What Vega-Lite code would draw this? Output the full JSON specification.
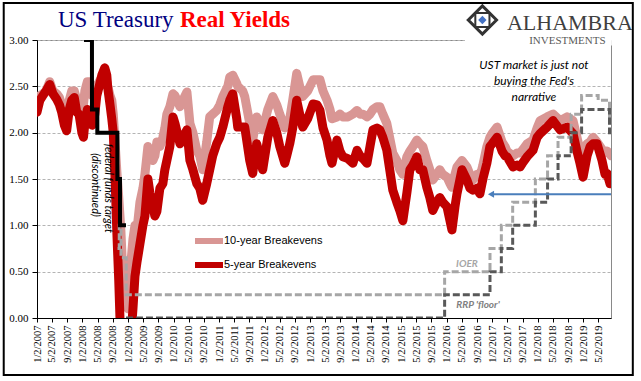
{
  "$schema": "https://vega.github.io/schema/vega-lite/v6.json",
  "width": 574,
  "height": 278,
  "autosize": {"type": "none"},
  "padding": {"left": 37, "top": 40, "right": 30, "bottom": 63},
  "background": "white",
  "datasets": {
    "be": [
      {"d":"2007-01-02","b10":2.30,"b5":2.22},{"d":"2007-01-25","b10":2.40,"b5":2.35},{"d":"2007-02-18","b10":2.42,"b5":2.40},{"d":"2007-03-15","b10":2.45,"b5":2.45},{"d":"2007-04-14","b10":2.55,"b5":2.52},{"d":"2007-05-10","b10":2.45,"b5":2.42},{"d":"2007-06-09","b10":2.42,"b5":2.36},{"d":"2007-07-01","b10":2.38,"b5":2.30},{"d":"2007-07-19","b10":2.30,"b5":2.22},{"d":"2007-08-10","b10":2.20,"b5":2.08},{"d":"2007-08-28","b10":2.15,"b5":2.02},{"d":"2007-09-18","b10":2.35,"b5":2.25},{"d":"2007-10-08","b10":2.45,"b5":2.35},{"d":"2007-10-28","b10":2.45,"b5":2.38},{"d":"2007-11-17","b10":2.35,"b5":2.22},{"d":"2007-12-05","b10":2.30,"b5":2.20},{"d":"2007-12-28","b10":2.25,"b5":2.00},
      {"d":"2008-01-10","b10":2.30,"b5":1.95},{"d":"2008-01-21","b10":2.45,"b5":2.10},{"d":"2008-02-10","b10":2.55,"b5":2.25},{"d":"2008-03-01","b10":2.55,"b5":2.15},{"d":"2008-03-20","b10":2.40,"b5":2.08},{"d":"2008-04-10","b10":2.45,"b5":2.20},{"d":"2008-04-26","b10":2.50,"b5":2.40},{"d":"2008-05-15","b10":2.55,"b5":2.50},{"d":"2008-06-05","b10":2.60,"b5":2.62},{"d":"2008-06-29","b10":2.60,"b5":2.70},{"d":"2008-07-15","b10":2.55,"b5":2.62},{"d":"2008-07-23","b10":2.50,"b5":2.48},{"d":"2008-08-10","b10":2.40,"b5":2.30},{"d":"2008-08-24","b10":2.35,"b5":2.15},{"d":"2008-09-05","b10":2.20,"b5":2.00},{"d":"2008-09-17","b10":1.95,"b5":1.60},{"d":"2008-10-03","b10":1.60,"b5":0.95},{"d":"2008-10-19","b10":1.30,"b5":0.40},{"d":"2008-11-05","b10":0.95,"b5":-0.30},{"d":"2008-11-21","b10":0.45,"b5":-1.00},{"d":"2008-12-07","b10":0.15,"b5":-1.50},
      {"d":"2009-01-01","b10":0.10,"b5":-0.60},{"d":"2009-01-25","b10":0.60,"b5":-0.20},{"d":"2009-02-10","b10":0.85,"b5":0.10},{"d":"2009-02-26","b10":1.00,"b5":0.45},{"d":"2009-03-14","b10":0.95,"b5":0.60},{"d":"2009-04-07","b10":1.25,"b5":0.80},{"d":"2009-05-01","b10":1.40,"b5":1.00},{"d":"2009-05-17","b10":1.55,"b5":1.10},{"d":"2009-06-10","b10":1.85,"b5":1.50},{"d":"2009-06-26","b10":1.80,"b5":1.35},{"d":"2009-07-20","b10":1.70,"b5":1.20},{"d":"2009-08-05","b10":1.75,"b5":1.10},{"d":"2009-08-21","b10":1.90,"b5":1.15},{"d":"2009-09-14","b10":1.85,"b5":1.40},{"d":"2009-10-08","b10":1.95,"b5":1.45},{"d":"2009-10-24","b10":2.05,"b5":1.60},{"d":"2009-11-09","b10":2.20,"b5":1.70},{"d":"2009-12-03","b10":2.28,"b5":1.85},{"d":"2009-12-28","b10":2.42,"b5":2.17},
      {"d":"2010-01-13","b10":2.40,"b5":2.10},{"d":"2010-02-22","b10":2.28,"b5":1.88},{"d":"2010-03-18","b10":2.35,"b5":1.95},{"d":"2010-04-19","b10":2.44,"b5":2.03},{"d":"2010-05-13","b10":2.10,"b5":1.70},{"d":"2010-06-06","b10":2.00,"b5":1.60},{"d":"2010-07-07","b10":1.81,"b5":1.45},{"d":"2010-07-31","b10":1.75,"b5":1.40},{"d":"2010-08-24","b10":1.60,"b5":1.27},{"d":"2010-09-25","b10":1.90,"b5":1.45},{"d":"2010-10-19","b10":2.17,"b5":1.60},{"d":"2010-11-12","b10":2.20,"b5":1.75},{"d":"2010-12-14","b10":2.24,"b5":1.88},
      {"d":"2011-01-08","b10":2.30,"b5":1.95},{"d":"2011-02-01","b10":2.39,"b5":2.06},{"d":"2011-03-13","b10":2.50,"b5":2.28},{"d":"2011-03-29","b10":2.60,"b5":2.35},{"d":"2011-04-22","b10":2.62,"b5":2.42},{"d":"2011-05-24","b10":2.53,"b5":2.15},{"d":"2011-06-01","b10":2.50,"b5":2.06},{"d":"2011-07-11","b10":2.45,"b5":2.06},{"d":"2011-07-27","b10":2.39,"b5":2.06},{"d":"2011-09-05","b10":2.10,"b5":1.70},{"d":"2011-09-29","b10":1.92,"b5":1.56},{"d":"2011-10-31","b10":2.17,"b5":1.88},{"d":"2011-11-24","b10":2.10,"b5":1.75},{"d":"2011-12-18","b10":2.03,"b5":1.60},
      {"d":"2012-01-28","b10":2.25,"b5":1.95},{"d":"2012-03-08","b10":2.39,"b5":2.13},{"d":"2012-04-09","b10":2.30,"b5":2.00},{"d":"2012-05-03","b10":2.20,"b5":1.85},{"d":"2012-06-12","b10":2.05,"b5":1.67},{"d":"2012-06-28","b10":2.10,"b5":1.75},{"d":"2012-07-22","b10":2.15,"b5":1.88},{"d":"2012-08-15","b10":2.35,"b5":2.05},{"d":"2012-09-16","b10":2.64,"b5":2.35},{"d":"2012-10-10","b10":2.50,"b5":2.20},{"d":"2012-11-03","b10":2.39,"b5":2.06},{"d":"2012-12-13","b10":2.45,"b5":2.15},
      {"d":"2013-01-25","b10":2.57,"b5":2.31},{"d":"2013-02-26","b10":2.57,"b5":2.30},{"d":"2013-03-22","b10":2.57,"b5":2.24},{"d":"2013-04-15","b10":2.45,"b5":2.05},{"d":"2013-05-17","b10":2.35,"b5":1.92},{"d":"2013-06-10","b10":2.25,"b5":1.75},{"d":"2013-06-26","b10":2.15,"b5":1.67},{"d":"2013-08-05","b10":2.17,"b5":1.92},{"d":"2013-08-29","b10":2.20,"b5":1.80},{"d":"2013-09-22","b10":2.17,"b5":1.74},{"d":"2013-11-01","b10":2.17,"b5":1.72},{"d":"2013-12-11","b10":2.20,"b5":1.67},
      {"d":"2014-01-13","b10":2.24,"b5":1.81},{"d":"2014-02-06","b10":2.20,"b5":1.75},{"d":"2014-03-02","b10":2.20,"b5":1.72},{"d":"2014-04-03","b10":2.17,"b5":1.67},{"d":"2014-04-27","b10":2.20,"b5":1.85},{"d":"2014-05-21","b10":2.25,"b5":2.03},{"d":"2014-06-22","b10":2.28,"b5":2.05},{"d":"2014-07-15","b10":2.28,"b5":2.03},{"d":"2014-08-08","b10":2.20,"b5":1.95},{"d":"2014-09-09","b10":2.10,"b5":1.81},{"d":"2014-10-27","b10":1.78,"b5":1.38},{"d":"2014-11-28","b10":1.70,"b5":1.25},{"d":"2014-12-22","b10":1.60,"b5":1.16},
      {"d":"2015-01-16","b10":1.55,"b5":1.05},{"d":"2015-02-17","b10":1.74,"b5":1.35},{"d":"2015-03-13","b10":1.80,"b5":1.60},{"d":"2015-04-06","b10":1.85,"b5":1.65},{"d":"2015-05-08","b10":1.92,"b5":1.74},{"d":"2015-06-01","b10":1.88,"b5":1.60},{"d":"2015-06-25","b10":1.85,"b5":1.60},{"d":"2015-07-27","b10":1.70,"b5":1.41},{"d":"2015-08-20","b10":1.60,"b5":1.30},{"d":"2015-09-13","b10":1.49,"b5":1.16},{"d":"2015-10-15","b10":1.55,"b5":1.25},{"d":"2015-11-08","b10":1.60,"b5":1.30},{"d":"2015-12-02","b10":1.55,"b5":1.25},
      {"d":"2016-01-05","b10":1.52,"b5":1.20},{"d":"2016-01-29","b10":1.45,"b5":1.05},{"d":"2016-02-14","b10":1.41,"b5":0.95},{"d":"2016-03-09","b10":1.55,"b5":1.20},{"d":"2016-03-25","b10":1.63,"b5":1.34},{"d":"2016-05-04","b10":1.70,"b5":1.60},{"d":"2016-06-13","b10":1.63,"b5":1.49},{"d":"2016-07-07","b10":1.55,"b5":1.40},{"d":"2016-07-31","b10":1.49,"b5":1.38},{"d":"2016-09-01","b10":1.55,"b5":1.40},{"d":"2016-09-25","b10":1.52,"b5":1.34},{"d":"2016-10-19","b10":1.65,"b5":1.50},{"d":"2016-11-20","b10":1.85,"b5":1.67},{"d":"2016-12-14","b10":1.95,"b5":1.85},
      {"d":"2017-01-01","b10":1.99,"b5":1.88},{"d":"2017-02-10","b10":2.06,"b5":1.95},{"d":"2017-03-22","b10":1.90,"b5":1.80},{"d":"2017-04-15","b10":1.85,"b5":1.75},{"d":"2017-05-01","b10":1.80,"b5":1.74},{"d":"2017-06-18","b10":1.75,"b5":1.63},{"d":"2017-07-20","b10":1.78,"b5":1.65},{"d":"2017-08-13","b10":1.78,"b5":1.63},{"d":"2017-09-06","b10":1.82,"b5":1.68},{"d":"2017-10-08","b10":1.88,"b5":1.74},{"d":"2017-11-25","b10":1.92,"b5":1.81},{"d":"2017-12-28","b10":2.05,"b5":1.95},
      {"d":"2018-01-21","b10":2.13,"b5":1.99},{"d":"2018-03-18","b10":2.17,"b5":2.06},{"d":"2018-05-05","b10":2.20,"b5":2.13},{"d":"2018-06-30","b10":2.13,"b5":2.03},{"d":"2018-08-25","b10":2.17,"b5":2.06},{"d":"2018-10-12","b10":2.13,"b5":1.99},{"d":"2018-11-13","b10":1.95,"b5":1.80},{"d":"2018-12-07","b10":1.81,"b5":1.67},
      {"d":"2019-01-01","b10":1.75,"b5":1.52},{"d":"2019-02-02","b10":1.88,"b5":1.75},{"d":"2019-02-26","b10":1.90,"b5":1.85},{"d":"2019-03-22","b10":1.95,"b5":1.88},{"d":"2019-04-23","b10":1.90,"b5":1.88},{"d":"2019-06-02","b10":1.82,"b5":1.70},{"d":"2019-06-26","b10":1.78,"b5":1.55},{"d":"2019-07-12","b10":1.80,"b5":1.56},{"d":"2019-08-05","b10":1.78,"b5":1.45},{"d":"2019-08-13","b10":1.75,"b5":1.45}
    ],
    "policy": [
      {"d":"2007-12-11","k":"FF","v":4.25},{"d":"2008-01-22","k":"FF","v":3.50},{"d":"2008-01-30","k":"FF","v":3.00},{"d":"2008-03-18","k":"FF","v":2.25},{"d":"2008-04-30","k":"FF","v":2.00},{"d":"2008-10-08","k":"FF","v":1.50},{"d":"2008-10-29","k":"FF","v":1.00},{"d":"2008-12-16","k":"FF","v":1.00},
      {"d":"2008-10-09","k":"IOER","v":0.75},{"d":"2008-10-23","k":"IOER","v":1.00},{"d":"2008-11-06","k":"IOER","v":0.65},{"d":"2008-12-18","k":"IOER","v":0.25},{"d":"2015-12-17","k":"IOER","v":0.50},{"d":"2016-12-15","k":"IOER","v":0.75},{"d":"2017-03-16","k":"IOER","v":1.00},{"d":"2017-06-15","k":"IOER","v":1.25},{"d":"2017-12-14","k":"IOER","v":1.50},{"d":"2018-03-22","k":"IOER","v":1.75},{"d":"2018-06-14","k":"IOER","v":1.95},{"d":"2018-09-27","k":"IOER","v":2.20},{"d":"2018-12-20","k":"IOER","v":2.40},{"d":"2019-05-02","k":"IOER","v":2.35},{"d":"2019-08-01","k":"IOER","v":2.10},{"d":"2019-08-13","k":"IOER","v":2.10},
      {"d":"2008-12-16","k":"RRP","v":0.00},{"d":"2015-12-17","k":"RRP","v":0.25},{"d":"2016-12-15","k":"RRP","v":0.50},{"d":"2017-03-16","k":"RRP","v":0.75},{"d":"2017-06-15","k":"RRP","v":1.00},{"d":"2017-12-14","k":"RRP","v":1.25},{"d":"2018-03-22","k":"RRP","v":1.50},{"d":"2018-06-14","k":"RRP","v":1.75},{"d":"2018-09-27","k":"RRP","v":2.00},{"d":"2018-12-20","k":"RRP","v":2.25},{"d":"2019-08-01","k":"RRP","v":2.00},{"d":"2019-08-13","k":"RRP","v":2.00}
    ]
  },
  "layer": [
    {
      "data": {"name": "be"},
      "transform": [{"fold": ["b10", "b5"], "as": ["s", "v"]}, {"filter": "datum.s == 'b10'"}],
      "mark": {"type": "line", "strokeWidth": 9, "strokeJoin": "round", "strokeCap": "round", "clip": true},
      "encoding": {
        "x": {"field": "d", "type": "temporal",
          "scale": {"type": "utc", "domain": [{"year": 2007, "month": 1, "date": 2, "utc": true}, {"year": 2019, "month": 8, "date": 13, "utc": true}], "nice": false},
          "axis": {
            "title": null, "grid": false, "tickCount": 200,
            "values": [
              {"year":2007,"month":1,"date":2,"utc":true},{"year":2007,"month":5,"date":2,"utc":true},{"year":2007,"month":9,"date":2,"utc":true},
              {"year":2008,"month":1,"date":2,"utc":true},{"year":2008,"month":5,"date":2,"utc":true},{"year":2008,"month":9,"date":2,"utc":true},
              {"year":2009,"month":1,"date":2,"utc":true},{"year":2009,"month":5,"date":2,"utc":true},{"year":2009,"month":9,"date":2,"utc":true},
              {"year":2010,"month":1,"date":2,"utc":true},{"year":2010,"month":5,"date":2,"utc":true},{"year":2010,"month":9,"date":2,"utc":true},
              {"year":2011,"month":1,"date":2,"utc":true},{"year":2011,"month":5,"date":2,"utc":true},{"year":2011,"month":9,"date":2,"utc":true},
              {"year":2012,"month":1,"date":2,"utc":true},{"year":2012,"month":5,"date":2,"utc":true},{"year":2012,"month":9,"date":2,"utc":true},
              {"year":2013,"month":1,"date":2,"utc":true},{"year":2013,"month":5,"date":2,"utc":true},{"year":2013,"month":9,"date":2,"utc":true},
              {"year":2014,"month":1,"date":2,"utc":true},{"year":2014,"month":5,"date":2,"utc":true},{"year":2014,"month":9,"date":2,"utc":true},
              {"year":2015,"month":1,"date":2,"utc":true},{"year":2015,"month":5,"date":2,"utc":true},{"year":2015,"month":9,"date":2,"utc":true},
              {"year":2016,"month":1,"date":2,"utc":true},{"year":2016,"month":5,"date":2,"utc":true},{"year":2016,"month":9,"date":2,"utc":true},
              {"year":2017,"month":1,"date":2,"utc":true},{"year":2017,"month":5,"date":2,"utc":true},{"year":2017,"month":9,"date":2,"utc":true},
              {"year":2018,"month":1,"date":2,"utc":true},{"year":2018,"month":5,"date":2,"utc":true},{"year":2018,"month":9,"date":2,"utc":true},
              {"year":2019,"month":1,"date":2,"utc":true},{"year":2019,"month":5,"date":2,"utc":true}
            ],
            "labelExpr": "utcFormat(datum.value, '%-m/%-d/%Y')",
            "labelAngle": 270, "labelFont": "Liberation Serif", "labelFontSize": 10.5, "labelColor": "#000000",
            "labelOverlap": false, "labelFlush": false, "labelBound": false,
            "tickSize": 4, "tickColor": "#000000", "domainColor": "#000000", "labelPadding": 3
          }
        },
        "y": {"field": "v", "type": "quantitative",
          "scale": {"domain": [0, 3], "nice": false, "zero": false},
          "axis": {"title": null, "values": [0, 0.5, 1, 1.5, 2, 2.5, 3], "format": ".2f",
            "labelFont": "Liberation Serif", "labelFontSize": 11, "labelColor": "#000000",
            "tickSize": 5, "tickColor": "#000000", "domainColor": "#000000", "labelPadding": 4,
            "grid": true, "gridDash": [3, 2], "gridColor": "#B4B4B4"}
        },
        "color": {"field": "s", "type": "nominal",
          "scale": {"domain": ["b10", "b5"], "range": ["#D99694", "#C00000"]},
          "legend": {"title": null, "orient": "none", "legendX": 162, "legendY": 191,
            "labelExpr": "datum.label == 'b10' ? '10-year Breakevens' : '5-year Breakevens'",
            "symbolType": "M-2,0H2", "symbolSize": 196, "symbolStrokeWidth": 6, "rowPadding": 0,
            "labelFont": "Liberation Sans", "labelFontSize": 11, "labelColor": "#000000", "labelOffset": 5, "padding": 0}
        }
      }
    },
    {
      "data": {"name": "be"},
      "transform": [{"fold": ["b10", "b5"], "as": ["s", "v"]}, {"filter": "datum.s == 'b5'"}],
      "mark": {"type": "line", "strokeWidth": 9, "strokeJoin": "round", "strokeCap": "round", "clip": true},
      "encoding": {
        "x": {"field": "d", "type": "temporal"},
        "y": {"field": "v", "type": "quantitative"},
        "color": {"field": "s", "type": "nominal"}
      }
    },
    {
      "data": {"name": "policy"},
      "transform": [{"filter": "datum.k == 'IOER'"}],
      "mark": {"type": "line", "interpolate": "step-after", "stroke": "#A6A6A6", "strokeWidth": 3, "strokeDash": [7, 3], "clip": true},
      "encoding": {"x": {"field": "d", "type": "temporal"}, "y": {"field": "v", "type": "quantitative"}}
    },
    {
      "data": {"name": "policy"},
      "transform": [{"filter": "datum.k == 'RRP'"}],
      "mark": {"type": "line", "interpolate": "step-after", "stroke": "#595959", "strokeWidth": 3, "strokeDash": [7, 3], "clip": true},
      "encoding": {"x": {"field": "d", "type": "temporal"}, "y": {"field": "v", "type": "quantitative"}}
    },
    {
      "data": {"name": "policy"},
      "transform": [{"filter": "datum.k == 'FF'"}],
      "mark": {"type": "line", "interpolate": "step-after", "stroke": "#000000", "strokeWidth": 4, "clip": true},
      "encoding": {"x": {"field": "d", "type": "temporal"}, "y": {"field": "v", "type": "quantitative"}}
    },
    {
      "data": {"values": [{}]},
      "mark": {"type": "rule", "stroke": "#4A7EBB", "strokeWidth": 2},
      "encoding": {
        "x": {"datum": {"year": 2016, "month": 12, "date": 23, "utc": true}, "type": "temporal"},
        "x2": {"datum": {"year": 2019, "month": 8, "date": 13, "utc": true}},
        "y": {"datum": 1.335, "type": "quantitative"}
      }
    },
    {
      "data": {"values": [{}]},
      "mark": {"type": "point", "shape": "triangle-left", "filled": true, "fill": "#4A7EBB", "size": 50, "opacity": 1},
      "encoding": {
        "x": {"datum": {"year": 2016, "month": 12, "date": 23, "utc": true}, "type": "temporal"},
        "y": {"datum": 1.335, "type": "quantitative"}
      }
    },
    {
      "data": {"values": [{}]},
      "mark": {"type": "text", "text": ["UST market is just not", "buying the Fed's", "narrative"], "font": "Lato", "fontStyle": "italic", "fontSize": 12, "lineHeight": 16, "align": "center", "baseline": "middle", "color": "#000000"},
      "encoding": {
        "x": {"datum": {"year": 2017, "month": 12, "date": 3, "utc": true}, "type": "temporal"},
        "y": {"datum": 2.73, "type": "quantitative"}
      }
    },
    {
      "data": {"values": [{}]},
      "mark": {"type": "text", "text": "IOER", "font": "Lato", "fontStyle": "italic", "fontWeight": "bold", "fontSize": 10, "align": "center", "baseline": "middle", "color": "#A6A6A6"},
      "encoding": {
        "x": {"datum": {"year": 2016, "month": 6, "date": 13, "utc": true}, "type": "temporal"},
        "y": {"datum": 0.583, "type": "quantitative"}
      }
    },
    {
      "data": {"values": [{}]},
      "mark": {"type": "text", "text": "RRP 'floor'", "font": "Lato", "fontStyle": "italic", "fontWeight": "bold", "fontSize": 10, "align": "center", "baseline": "middle", "color": "#808080"},
      "encoding": {
        "x": {"datum": {"year": 2016, "month": 9, "date": 9, "utc": true}, "type": "temporal"},
        "y": {"datum": 0.14, "type": "quantitative"}
      }
    },
    {
      "data": {"values": [{}]},
      "mark": {"type": "text", "text": "federal funds target", "font": "Lato", "fontStyle": "italic", "fontSize": 11, "angle": 90, "align": "center", "baseline": "middle", "color": "#000000"},
      "encoding": {
        "x": {"datum": {"year": 2008, "month": 7, "date": 25, "utc": true}, "type": "temporal"},
        "y": {"datum": 1.40, "type": "quantitative"}
      }
    },
    {
      "data": {"values": [{}]},
      "mark": {"type": "text", "text": "(discontinued)", "font": "Lato", "fontStyle": "italic", "fontSize": 11, "angle": 90, "align": "center", "baseline": "middle", "color": "#000000"},
      "encoding": {
        "x": {"datum": {"year": 2008, "month": 4, "date": 8, "utc": true}, "type": "temporal"},
        "y": {"datum": 1.435, "type": "quantitative"}
      }
    },
    {
      "data": {"values": [{}]},
      "mark": {"type": "rect", "fill": "white", "stroke": null},
      "encoding": {
        "x": {"datum": {"year": 2016, "month": 5, "date": 28, "utc": true}, "type": "temporal"},
        "x2": {"datum": {"year": 2019, "month": 8, "date": 20, "utc": true}},
        "y": {"datum": 3.054, "type": "quantitative"},
        "y2": {"datum": 2.94}
      }
    },
    {
      "data": {"values": [{}]},
      "mark": {"type": "text", "text": "US Treasury", "font": "Liberation Serif", "fontSize": 23, "align": "left", "baseline": "alphabetic", "color": "#000080"},
      "encoding": {
        "x": {"datum": {"year": 2007, "month": 6, "date": 19, "utc": true}, "type": "temporal"},
        "y": {"datum": 3.143, "type": "quantitative"}
      }
    },
    {
      "data": {"values": [{}]},
      "mark": {"type": "text", "text": "Real Yields", "font": "Liberation Serif", "fontSize": 23, "fontWeight": "bold", "align": "left", "baseline": "alphabetic", "color": "#FF0000"},
      "encoding": {
        "x": {"datum": {"year": 2010, "month": 2, "date": 22, "utc": true}, "type": "temporal"},
        "y": {"datum": 3.143, "type": "quantitative"}
      }
    },
    {
      "data": {"values": [{}]},
      "mark": {"type": "text", "text": "ALHAMBRA", "font": "Liberation Serif", "fontSize": 22, "align": "left", "baseline": "alphabetic", "color": "#404040"},
      "encoding": {
        "x": {"datum": {"year": 2017, "month": 4, "date": 30, "utc": true}, "type": "temporal"},
        "y": {"datum": 3.113, "type": "quantitative"}
      }
    },
    {
      "data": {"values": [{}]},
      "mark": {"type": "text", "text": "INVESTMENTS", "font": "Liberation Serif", "fontSize": 11, "align": "center", "baseline": "alphabetic", "color": "#595959"},
      "encoding": {
        "x": {"datum": {"year": 2018, "month": 8, "date": 28, "utc": true}, "type": "temporal"},
        "y": {"datum": 2.962, "type": "quantitative"}
      }
    },
    {
      "data": {"values": [{}]},
      "mark": {"type": "point", "shape": "diamond", "filled": false, "stroke": "#333333", "strokeWidth": 3, "size": 800, "opacity": 1},
      "encoding": {
        "x": {"datum": {"year": 2016, "month": 10, "date": 15, "utc": true}, "type": "temporal"},
        "y": {"datum": 3.216, "type": "quantitative"}
      }
    },
    {
      "data": {"values": [{}]},
      "mark": {"type": "point", "shape": "square", "filled": false, "stroke": "#333333", "strokeWidth": 2, "size": 200, "opacity": 1},
      "encoding": {
        "x": {"datum": {"year": 2016, "month": 10, "date": 15, "utc": true}, "type": "temporal"},
        "y": {"datum": 3.216, "type": "quantitative"}
      }
    },
    {
      "data": {"values": [{}]},
      "mark": {"type": "point", "shape": "diamond", "filled": true, "fill": "#4472C4", "size": 70, "opacity": 1},
      "encoding": {
        "x": {"datum": {"year": 2016, "month": 10, "date": 15, "utc": true}, "type": "temporal"},
        "y": {"datum": 3.216, "type": "quantitative"}
      }
    },
    {
      "data": {"values": [{}]},
      "mark": {"type": "rect", "fill": "transparent", "stroke": "#000000", "strokeWidth": 2},
      "encoding": {
        "x": {"datum": {"year": 2006, "month": 4, "date": 10, "utc": true}, "type": "temporal"},
        "x2": {"datum": {"year": 2020, "month": 2, "date": 4, "utc": true}},
        "y": {"datum": 3.399, "type": "quantitative"},
        "y2": {"datum": -0.615}
      }
    }
  ],
  "config": {
    "view": {"stroke": "#898989", "strokeWidth": 1},
    "font": "Liberation Sans",
    "axisX": {"labelOverlap": false, "labelBound": false, "labelFlush": false}
  }
}
